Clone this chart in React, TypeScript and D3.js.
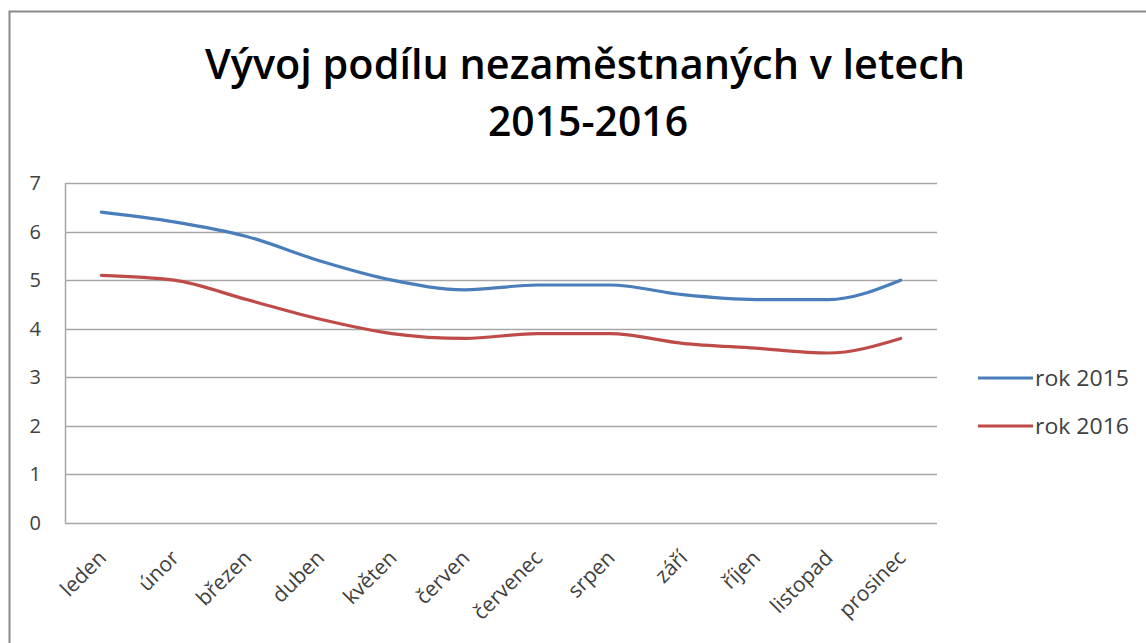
import React, { useEffect, useRef } from 'react';
import * as d3 from 'd3';

const months = ['leden', 'únor', 'březen', 'duben', 'květen', 'červen', 'červenec', 'srpen', 'září', 'říjen', 'listopad', 'prosinec'];
const rok2015 = [6.4, 6.2, 5.9, 5.4, 5.0, 4.8, 4.9, 4.9, 4.7, 4.6, 4.6, 5.0];
const rok2016 = [5.1, 5.0, 4.6, 4.2, 3.9, 3.8, 3.9, 3.9, 3.7, 3.6, 3.5, 3.8];
const yTicks = [0, 1, 2, 3, 4, 5, 6, 7];
const seriesNames = ['rok 2015', 'rok 2016'];
const seriesColors = ['#4a7ebb', '#be4b48'];

const App = () => {
    const ref = useRef<SVGSVGElement>(null);

    useEffect(() => {
        const svg = d3.select(ref.current);
        svg.selectAll('*').remove();

        const width = 1146;
        const height = 643;
        const plot = { left: 65, right: 937, top: 183, bottom: 523 };
        const font = "'Open Sans', 'Noto Sans', sans-serif";

        svg.append('rect').attr('width', width).attr('height', height).attr('fill', '#fff');

        // outer chart border (only top and left are visible in the crop)
        svg.append('rect')
            .attr('x', 9.5).attr('y', 11.5)
            .attr('width', width + 20).attr('height', height + 20)
            .attr('fill', 'none').attr('stroke', '#8a8a8a').attr('stroke-width', 2);

        // title
        const title = svg.append('text')
            .attr('text-anchor', 'middle')
            .attr('font-family', font)
            .attr('font-weight', 600)
            .attr('font-size', 41)
            .attr('fill', '#000');
        title.append('tspan').attr('x', 585).attr('y', 79)
            .attr('textLength', 760).attr('lengthAdjust', 'spacingAndGlyphs')
            .text('Vývoj podílu nezaměstnaných v letech');
        title.append('tspan').attr('x', 588).attr('y', 136)
            .attr('textLength', 200).attr('lengthAdjust', 'spacingAndGlyphs')
            .text('2015-2016');

        const x = d3.scalePoint<string>()
            .domain(months)
            .range([plot.left, plot.right])
            .padding(0.5);

        const y = d3.scaleLinear()
            .domain([0, 7])
            .range([plot.bottom, plot.top]);

        // gridlines
        svg.append('g')
            .selectAll('line')
            .data(yTicks)
            .join('line')
            .attr('x1', plot.left).attr('x2', plot.right)
            .attr('y1', d => Math.round(y(d)) + 0.5).attr('y2', d => Math.round(y(d)) + 0.5)
            .attr('stroke', '#a6a6a6').attr('stroke-width', 1.5);

        // y axis line
        svg.append('line')
            .attr('x1', plot.left + 0.5).attr('x2', plot.left + 0.5)
            .attr('y1', plot.top).attr('y2', plot.bottom)
            .attr('stroke', '#a6a6a6').attr('stroke-width', 1.5);

        // y labels
        svg.append('g')
            .selectAll('text')
            .data(yTicks)
            .join('text')
            .attr('x', 41)
            .attr('y', d => y(d))
            .attr('dy', '0.35em')
            .attr('text-anchor', 'end')
            .attr('font-family', font)
            .attr('font-size', 20)
            .attr('fill', '#404040')
            .text(d => d);

        // x labels
        svg.append('g')
            .selectAll('text')
            .data(months)
            .join('text')
            .attr('transform', d => `translate(${(x(d) ?? 0) + 1},${plot.bottom + 31}) rotate(-45)`)
            .attr('dy', '0.35em')
            .attr('text-anchor', 'end')
            .attr('font-family', font)
            .attr('font-size', 21)
            .attr('fill', '#404040')
            .text(d => d);

        const line = d3.line<number>()
            .x((d, i) => x(months[i]) ?? 0)
            .y(d => y(d))
            .curve(d3.curveMonotoneX);

        [rok2015, rok2016].forEach((values, i) => {
            svg.append('path')
                .datum(values)
                .attr('fill', 'none')
                .attr('stroke', seriesColors[i])
                .attr('stroke-width', 3.2)
                .attr('stroke-linejoin', 'round')
                .attr('stroke-linecap', 'round')
                .attr('d', line);
        });

        // legend
        const legend = svg.append('g');
        seriesNames.forEach((name, i) => {
            const ly = 378 + i * 48;
            legend.append('line')
                .attr('x1', 978).attr('x2', 1033)
                .attr('y1', ly).attr('y2', ly)
                .attr('stroke', seriesColors[i]).attr('stroke-width', 3.2);
            legend.append('text')
                .attr('x', 1035).attr('y', ly)
                .attr('dy', '0.35em')
                .attr('font-family', font)
                .attr('font-size', 22)
                .attr('fill', '#404040')
                .attr('textLength', 94).attr('lengthAdjust', 'spacingAndGlyphs')
                .text(name);
        });
    }, []);

    return <svg ref={ref} width="1146" height="643" style={{ position: 'absolute', left: 0, top: 0 }}></svg>;
};

export default App;
